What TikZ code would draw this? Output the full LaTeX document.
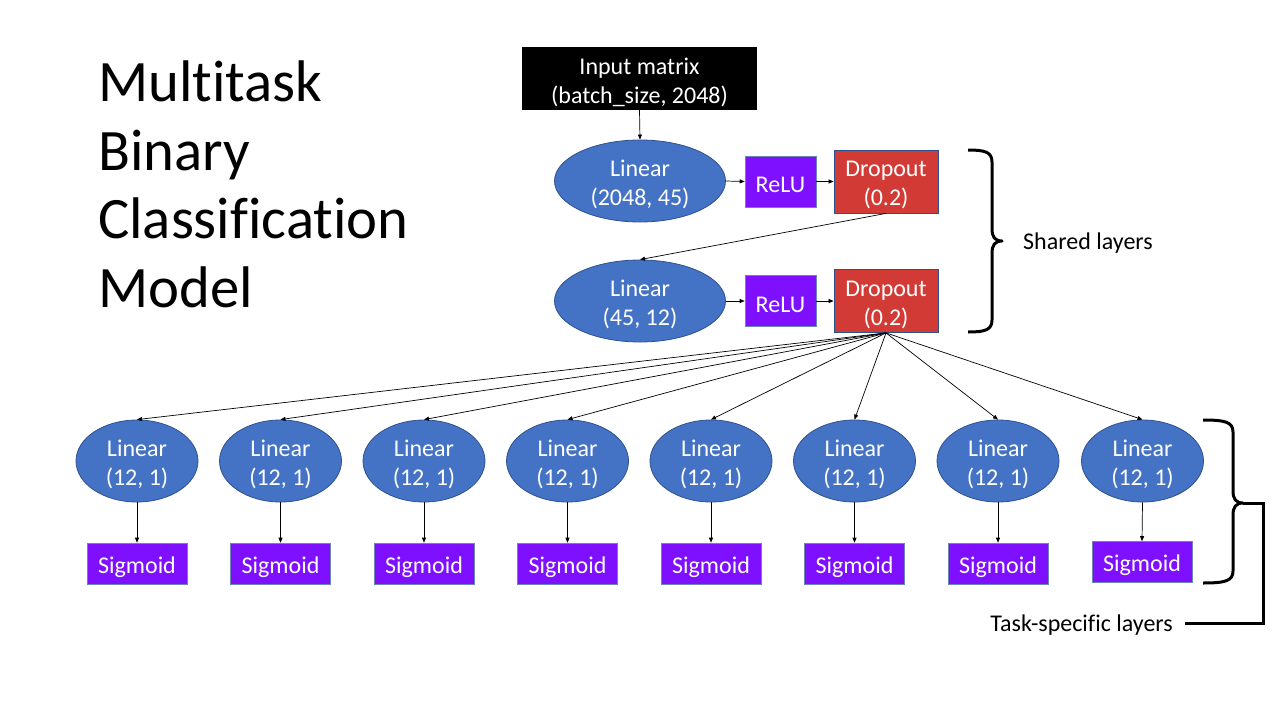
\documentclass[tikz,border=0pt]{standalone}
\usepackage{fontspec}
\setmainfont{Carlito}[Ligatures=NoCommon]
\usetikzlibrary{shapes.geometric,arrows.meta}
\definecolor{lblue}{HTML}{4472C4}
\definecolor{lbord}{HTML}{2F528F}
\definecolor{rpurp}{HTML}{7F0FFF}
\definecolor{dred}{HTML}{D23A36}
\begin{document}
\begin{tikzpicture}[x=1pt,y=-1pt,
  txt/.style={font=\fontsize{24}{29}\selectfont, align=center, text=white, inner sep=0pt},
  tl/.style={label={[txt, yshift=-3.5pt]center:{#1}}},
  lin/.style={ellipse, fill=lblue, draw=lbord, line width=0.8pt, minimum width=#1, minimum height=82, inner sep=0pt},
  relu/.style={rectangle, fill=rpurp, draw=lbord!70, line width=0.6pt, minimum width=71, minimum height=51, inner sep=0pt},
  sig/.style={rectangle, fill=rpurp, draw=lbord!70, line width=0.6pt, minimum width=100, minimum height=41, inner sep=0pt},
  drop/.style={rectangle, fill=dred, draw=lbord, line width=0.8pt, minimum width=104, minimum height=63, inner sep=0pt},
  arr/.style={-{Triangle[length=5pt,width=4pt]}, line width=0.7pt, black},
  brace/.style={line width=3pt, black, line join=round},
  lab/.style={font=\fontsize{24}{29}\selectfont, inner sep=0pt, text=black}
]
\useasboundingbox (0,0) rectangle (1280,720);
\fill[white] (0,0) rectangle (1280,720);

% title
\node[anchor=north west, align=left, inner sep=0pt, font=\fontsize{58.7}{68.5}\selectfont] (title) at (98,61)
  {Multitask\\Binary\\Classification\\Model};

% input
\node[fill=black, minimum width=235, minimum height=63, inner sep=0pt, tl={Input matrix\\(batch\_size, 2048)}] (inp) at (639.5,78.5) {};

% shared
\node[lin=171, tl={Linear\\(2048, 45)}] (l1) at (640,181) {};
\node[relu, tl={ReLU}] (r1) at (780.5,181.5) {};
\node[drop, tl={Dropout\\(0.2)}] (d1) at (886,181.5) {};
\node[lin=171, tl={Linear\\(45, 12)}] (l2) at (640,301) {};
\node[relu, tl={ReLU}] (r2) at (780.5,301) {};
\node[drop, tl={Dropout\\(0.2)}] (d2) at (886,301) {};

\draw[arr] (inp.south) -- (l1.north);
\draw[arr] (l1.east) -- (r1.west);
\draw[arr] (r1.east) -- (d1.west);
\draw[arr] (d1.south) -- (l2.north);
\draw[arr] (l2.east) -- (r2.west);
\draw[arr] (r2.east) -- (d2.west);

% task-specific
\foreach \i/\x in {1/137,2/280.5,3/424,4/567.5,5/711,6/854.5,7/998} {
  \node[lin=122, tl={Linear\\(12, 1)}] (t\i) at (\x,461) {};
  \node[sig, tl={Sigmoid}] (s\i) at (\x,563.5) {};
  \draw[arr] (d2.south) -- (t\i.north);
  \draw[arr] (t\i.south) -- (s\i.north);
}
\node[lin=122, tl={Linear\\(12, 1)}] (t8) at (1142.5,461) {};
\node[sig, tl={Sigmoid}] (s8) at (1142,562) {};
\draw[arr] (d2.south) -- (t8.north);
\draw[arr] (t8.south) -- (s8.north);

% shared brace
\draw[brace] (968,150) .. controls (985,150) and (992,152) .. (992,162) -- (992,229)
  .. controls (992,237) and (995,241) .. (1002,241)
  .. controls (995,241) and (992,245) .. (992,253) -- (992,320)
  .. controls (992,330) and (985,332) .. (968,332);
\node[lab, anchor=west] (shl) at (1023,243) {Shared layers};

% task brace
\draw[brace] (1203,420) .. controls (1225,420) and (1233,422) .. (1233,432) -- (1233,491)
  .. controls (1233,499) and (1236,503) .. (1243,503)
  .. controls (1236,503) and (1233,507) .. (1233,515) -- (1233,571)
  .. controls (1233,581) and (1225,583) .. (1203,583);
\coordinate (ttip) at (1243,503);
\node[lab, anchor=east] (tsl) at (1173,625) {Task-specific layers};
\coordinate (tend) at (1185,623);
\draw[brace, line join=miter] (ttip) -- (1263,503) |- (tend);
\end{tikzpicture}
\end{document}
